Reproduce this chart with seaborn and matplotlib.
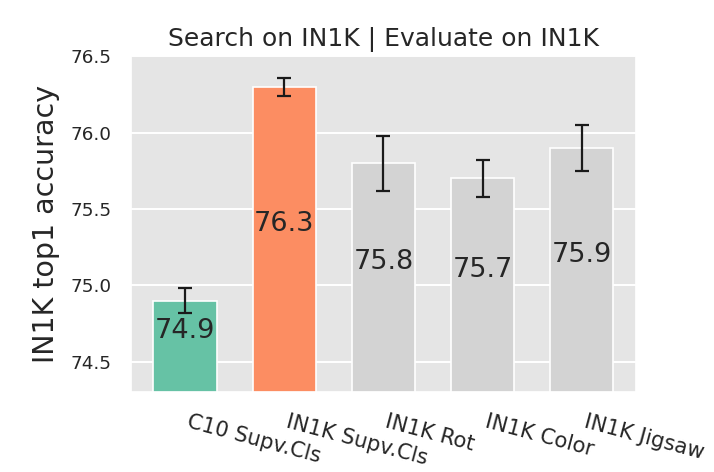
import matplotlib
matplotlib.use("Agg")
import matplotlib.pyplot as plt
import seaborn as sns
import pandas as pd

categories = ["C10 Supv.Cls", "IN1K Supv.Cls", "IN1K Rot", "IN1K Color", "IN1K Jigsaw"]
means = [74.9, 76.3, 75.8, 75.7, 75.9]
errs = [0.08, 0.06, 0.18, 0.12, 0.15]
colors = ["#66c2a5", "#fc8d62", "#d3d3d3", "#d3d3d3", "#d3d3d3"]
yticks = [74.5, 75.0, 75.5, 76.0, 76.5]

sns.set_theme(style="darkgrid", rc={"axes.facecolor": "#e5e5e5", "grid.color": "white",
                                    "grid.linewidth": 1.4})
plt.rcParams["font.family"] = ["DejaVu Sans"]

df = pd.DataFrame({"cat": categories, "val": means})

fig = plt.figure(figsize=(7.14, 4.72), dpi=100)
ax = fig.add_axes([0.183, 0.169, 0.708, 0.712])
sns.barplot(data=df, x="cat", y="val", hue="cat", palette=colors, legend=False,
            width=0.64, saturation=1, edgecolor="white", linewidth=1.2, ax=ax)
ax.errorbar(range(len(categories)), means, yerr=errs, fmt="none", ecolor="#1a1a1a",
            elinewidth=1.6, capsize=5, capthick=1.6, zorder=5)

ax.set_ylim(74.3, 76.5)
ax.set_xlim(-0.55, 4.55)
ax.set_yticks(yticks)
ax.set_yticklabels([f"{t:.1f}" for t in yticks], fontsize=13.2, color="#262626")
ax.set_xticks(range(len(categories)))
ax.set_xticklabels(categories, rotation=-15, ha="left", fontsize=15.2, color="#262626")
ax.tick_params(axis="both", length=0, pad=14)

for i, v in enumerate(means):
    ax.text(i, (v + 74.5) / 2, f"{v:.1f}", ha="center", va="center", fontsize=19.5,
            color="#262626", zorder=6)

ax.set_xlabel("")
ax.set_ylabel("IN1K top1 accuracy", fontsize=20.5, color="#262626", labelpad=7)
ax.set_title("Search on IN1K | Evaluate on IN1K", fontsize=18, color="#262626", pad=7)

fig.savefig("out.png", dpi=100)
